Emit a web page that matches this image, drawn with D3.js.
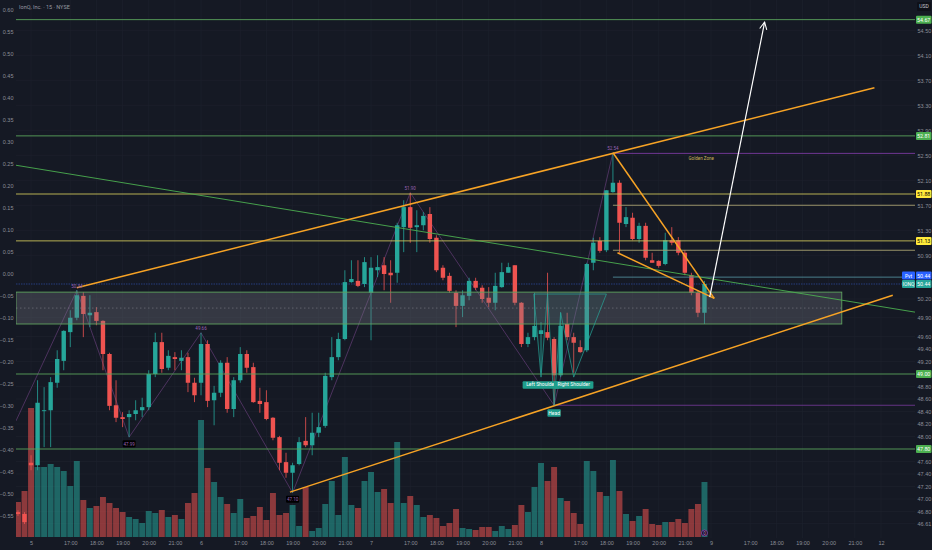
<!DOCTYPE html>
<html>
<head>
<meta charset="utf-8">
<script src="https://cdn.jsdelivr.net/npm/d3@7"></script>
<style>
  html, body { margin: 0; padding: 0; background: #151924; overflow: hidden; }
  svg { display: block; font-family: Roboto, "Noto Sans", sans-serif; }
  .axis text { fill: #8c8f98; font-size: 5.5px; }
  .axis path, .axis line { display: none; }
</style>
</head>
<body>
<div class="chart"></div>
<script>
// IONQ 15m bars, bar 0 and 1 are the end of the 4th, then sessions 5..8
const opens = [46.79,46.76,47.58,47.54,48.41,48.42,48.86,49.21,49.67,49.90,
  50.25,49.94,49.99,49.85,49.32,48.50,48.31,48.31,48.36,48.42,
  48.47,49.00,49.51,49.10,49.27,49.21,49.27,48.86,48.86,49.48,
  48.58,48.70,49.18,48.44,48.90,49.32,49.11,48.57,48.55,48.30,
  47.99,47.59,47.42,47.56,47.93,47.86,48.06,48.17,48.95,49.27,
  49.56,50.47,50.49,50.44,50.30,50.66,50.74,50.62,50.62,51.35,
  51.67,51.35,51.38,51.56,51.18,50.70,50.57,50.30,50.09,50.25,
  50.49,50.38,50.22,50.14,50.39,50.62,50.74,50.14,49.48,49.59,
  49.64,49.67,49.56,48.98,49.80,49.59,49.43,49.38,50.78,51.13,
  50.98,51.91,52.06,51.40,51.50,51.16,51.37,50.82,50.81,50.76,
  51.14,51.14,50.94,50.58,50.30,49.98];
const highs = [46.82,46.79,47.70,48.90,48.79,48.95,49.38,49.70,50.02,50.34,
  50.31,50.26,50.07,49.86,49.34,48.90,48.39,48.42,48.58,48.62,
  49.06,49.66,49.66,49.38,49.35,49.38,49.34,48.94,49.66,49.54,
  48.81,49.22,49.27,48.95,49.43,49.38,49.18,48.78,48.74,48.31,
  48.01,47.74,47.58,47.99,48.31,48.38,48.38,49.02,49.59,49.66,
  50.66,50.82,50.82,50.87,50.87,50.90,50.87,50.82,51.42,51.78,
  51.90,51.62,51.59,51.67,51.22,50.74,50.62,50.34,50.34,50.54,
  50.54,50.42,50.39,50.62,50.78,50.78,50.74,50.15,49.66,50.30,
  49.83,50.62,49.59,49.99,49.98,49.66,49.54,50.78,51.18,51.19,
  51.94,52.54,52.10,51.67,51.58,51.42,51.42,50.94,50.82,51.26,
  51.35,51.19,50.98,50.62,50.34,50.49];
const lows = [46.73,46.60,47.46,47.46,47.83,47.83,48.78,49.06,49.43,49.86,
  49.59,49.75,49.78,49.06,48.42,48.23,48.15,47.99,48.26,48.31,
  48.42,48.95,49.02,49.06,49.06,49.06,48.71,48.55,48.66,48.47,
  48.18,48.63,48.38,48.31,48.86,49.02,48.54,48.38,48.26,47.94,
  47.46,47.34,47.10,47.54,47.83,47.70,47.99,48.14,48.90,49.22,
  49.54,50.46,50.39,50.39,49.54,50.55,50.34,50.14,50.46,50.95,
  51.10,50.95,51.30,51.10,50.63,50.50,50.30,49.75,49.91,50.18,
  50.34,50.14,50.07,50.02,50.38,50.62,50.10,49.43,49.43,49.54,
  49.02,49.54,48.50,48.95,49.54,49.02,49.34,49.35,50.66,50.94,
  50.95,51.90,50.94,51.35,51.14,51.10,50.82,50.78,50.70,50.74,
  51.06,50.90,50.58,50.26,49.91,49.80];
const closes = [46.76,46.63,47.54,48.54,48.42,48.87,49.24,49.69,49.90,50.26,
  49.96,49.98,49.85,49.32,48.49,48.30,48.28,48.36,48.42,48.47,
  49.00,49.51,49.08,49.29,49.24,49.26,48.86,48.66,49.48,48.57,
  48.70,49.18,48.44,48.90,49.32,49.10,48.55,48.52,48.28,47.98,
  47.58,47.42,47.54,47.91,47.86,48.06,48.15,48.97,49.27,49.56,
  50.47,50.52,50.41,50.79,50.70,50.71,50.60,50.58,51.38,51.67,
  51.34,51.38,51.53,51.16,50.66,50.54,50.33,50.09,50.26,50.49,
  50.38,50.20,50.14,50.41,50.63,50.71,50.14,49.48,49.59,49.77,
  49.70,49.58,48.98,49.77,49.59,49.50,49.35,50.76,51.10,50.97,
  51.94,52.06,51.42,51.51,51.16,51.37,50.86,50.78,50.73,51.14,
  51.10,50.94,50.62,50.30,49.98,50.44];
// volume, thousands of shares
const volumes = [35,46,129,70,70,73,70,66,51,76,
  37,29,31,40,34,29,25,20,18,14,
  26,24,27,20,22,18,34,44,117,69,
  55,40,33,24,38,19,21,30,17,44,
  22,24,32,11,50,6,9,33,56,22,
  80,32,29,56,65,45,48,34,95,34,
  41,32,20,22,19,11,14,28,9,8,
  7,10,10,6,11,8,12,32,25,50,
  74,56,70,39,36,24,13,76,66,45,
  41,77,46,23,16,21,28,13,12,15,
  15,18,14,28,33,55];

// time axis: bar index of each label
const tickIdx = [2,8,12,16,20,24, 28,34,38,42,46,50, 54,60,64,68,72,76,
  80,86,90,94,98,102, 106,112,116,120,124,128, 132];
const tickLabels = ["5","17:00","18:00","19:00","20:00","21:00",
  "6","17:00","18:00","19:00","20:00","21:00",
  "7","17:00","18:00","19:00","20:00","21:00",
  "8","17:00","18:00","19:00","20:00","21:00",
  "9","17:00","18:00","19:00","20:00","21:00","12"];

const priceTicks = [54.50,54.10,53.70,53.30,52.90,52.50,52.10,51.70,51.30,50.90,
  50.20,49.90,49.60,49.40,49.20,48.80,48.60,48.40,48.20,48.00,
  47.60,47.40,47.20,47.00,46.80,46.61];
const leftTicks = d3.range(12, -12, -1).map(k => k * 0.05);

// drawn levels
const greenLevels = [54.67, 52.81, 49.00, 47.80];
const yellowLevels = [51.88, 51.13];
const fibLevels = [52.53, 51.70, 50.98];   // start at the bar 91 top
const pivotLevel = 50.55;
const headLevel = 48.50;
const zone = [49.80, 50.31];
const zoneEnd = 126;
const lastClose = 50.44;

// trend drawings, [bar index, price]
const channelTop = [[9, 50.38], [131, 53.58]];
const channelBottom = [[41.6, 47.11], [133.8, 50.26]];
const downTrend = [[-0.3, 52.34], [137.2, 49.99]];
const wedgeTop = [[91, 52.54], [106.5, 50.21]];
const wedgeBottom = [[91.7, 50.94], [106.5, 50.21]];
const target = [[105.8, 50.23], [114.2, 54.63]];
const zigzag = [[-0.3, 48.25], [9, 50.34], [17, 47.99], [28, 49.66], [42, 47.10],
  [60, 51.90], [82, 48.50], [91, 52.54]];
const zigLabels = ["", "50.34", "47.99", "49.66", "47.10", "51.90", "", "52.54"];
const headShoulders = [[78.9, 50.28], [80, 48.95], [81, 50.28], [82, 48.50],
  [83, 49.98], [85, 48.95], [90, 50.28]];

const width = 932, height = 550;
const plotRight = 915, plotBottom = 538;

const svg = d3.select(".chart").append("svg")
  .attr("width", width)
  .attr("height", height);

svg.append("rect").attr("width", width).attr("height", height).attr("fill", "#151924");

const x = d3.scaleLinear().domain([-0.3, 137.2]).range([16, plotRight]);
const y = d3.scaleLinear().domain([46.376, 54.984]).range([plotBottom, 0]);
const yLeft = d3.scaleLinear().domain([-0.55, 0.60]).range([516, 10]);
const yVol = d3.scaleLinear().domain([0, d3.max(volumes)]).range([537, 408]);

const defs = svg.append("defs");
defs.append("clipPath").attr("id", "plot")
  .append("rect").attr("x", 16).attr("y", 0).attr("width", plotRight - 16).attr("height", plotBottom);
defs.append("marker")
  .attr("id", "arrow")
  .attr("viewBox", "0 0 10 10")
  .attr("refX", 9).attr("refY", 5)
  .attr("markerWidth", 9).attr("markerHeight", 9)
  .attr("markerUnits", "userSpaceOnUse")
  .attr("orient", "auto")
  .append("path")
  .attr("d", "M1,1 L9,5 L1,9")
  .attr("fill", "none")
  .attr("stroke", "#ffffff")
  .attr("stroke-width", 1.2);

// grid
const grid = svg.append("g").attr("clip-path", "url(#plot)");
grid.selectAll(".vgrid").data(tickIdx).join("line")
  .attr("x1", d => x(d)).attr("x2", d => x(d))
  .attr("y1", 0).attr("y2", plotBottom)
  .attr("stroke", "#1d212c").attr("stroke-width", 0.7);
grid.selectAll(".hgrid").data(priceTicks).join("line")
  .attr("x1", 16).attr("x2", plotRight)
  .attr("y1", d => y(d)).attr("y2", d => y(d))
  .attr("stroke", "#1d212c").attr("stroke-width", 0.7);

const bars = opens.map((o, i) => ({
  i: i, o: o, h: highs[i], l: lows[i], c: closes[i], v: volumes[i], up: closes[i] >= o
}));

const plot = svg.append("g").attr("clip-path", "url(#plot)");

// volume
const step = x(1) - x(0);
plot.selectAll(".vol").data(bars).join("rect")
  .attr("class", "vol")
  .attr("x", d => x(d.i) - step / 2 + 0.3)
  .attr("width", step - 0.6)
  .attr("y", d => yVol(d.v))
  .attr("height", d => yVol(0) - yVol(d.v))
  .attr("fill", d => d.up ? "rgba(38,166,154,0.55)" : "rgba(239,83,80,0.55)");

// last price line
plot.append("line")
  .attr("x1", 16).attr("x2", plotRight)
  .attr("y1", y(lastClose)).attr("y2", y(lastClose))
  .attr("stroke", "#2b4596").attr("stroke-width", 0.8)
  .attr("stroke-dasharray", "1.5,1");

// zigzag
const line = d3.line().x(d => x(d[0])).y(d => y(d[1]));
plot.append("path")
  .attr("d", line(zigzag))
  .attr("fill", "none")
  .attr("stroke", "#8a4f9e")
  .attr("stroke-width", 0.6)
  .attr("opacity", 0.8);

// candles
plot.selectAll(".wick").data(bars).join("line")
  .attr("x1", d => x(d.i)).attr("x2", d => x(d.i))
  .attr("y1", d => y(d.h)).attr("y2", d => y(d.l))
  .attr("stroke", d => d.up ? "#26a69a" : "#ef5350")
  .attr("stroke-width", 0.8);
plot.selectAll(".body").data(bars).join("rect")
  .attr("x", d => x(d.i) - 2.2)
  .attr("width", 4.4)
  .attr("y", d => y(Math.max(d.o, d.c)))
  .attr("height", d => Math.max(0.9, Math.abs(y(d.o) - y(d.c))))
  .attr("fill", d => d.up ? "#26a69a" : "#ef5350");

// zone box
plot.append("rect")
  .attr("x", x(-0.3)).attr("width", x(zoneEnd) - x(-0.3))
  .attr("y", y(zone[1])).attr("height", y(zone[0]) - y(zone[1]))
  .attr("fill", "rgba(120,123,134,0.32)")
  .attr("stroke", "#5fa35f").attr("stroke-width", 0.9);
plot.append("line")
  .attr("x1", x(-0.3)).attr("x2", x(zoneEnd))
  .attr("y1", y(d3.mean(zone))).attr("y2", y(d3.mean(zone)))
  .attr("stroke", "#8a8d96").attr("stroke-width", 0.5)
  .attr("stroke-dasharray", "1.5,2.5");

// horizontal levels
plot.selectAll(".green").data(greenLevels).join("line")
  .attr("x1", 16).attr("x2", plotRight)
  .attr("y1", d => y(d)).attr("y2", d => y(d))
  .attr("stroke", "#5aa35c").attr("stroke-width", 0.9);
plot.selectAll(".yellow").data(yellowLevels).join("line")
  .attr("x1", 16).attr("x2", plotRight)
  .attr("y1", d => y(d)).attr("y2", d => y(d))
  .attr("stroke", "#c9c25a").attr("stroke-width", 0.9);
const fibColors = ["#7b3aa0", "#a8a070", "#a8a070"];
plot.selectAll(".fib").data(fibLevels).join("line")
  .attr("x1", x(91)).attr("x2", plotRight)
  .attr("y1", d => y(d)).attr("y2", d => y(d))
  .attr("stroke", (d, i) => fibColors[i]).attr("stroke-width", 0.9);
plot.append("line")
  .attr("x1", x(91)).attr("x2", plotRight)
  .attr("y1", y(pivotLevel)).attr("y2", y(pivotLevel))
  .attr("stroke", "#4f8b97").attr("stroke-width", 0.9);
plot.append("line")
  .attr("x1", x(82)).attr("x2", plotRight)
  .attr("y1", y(headLevel)).attr("y2", y(headLevel))
  .attr("stroke", "#6e3790").attr("stroke-width", 0.9);

// trend lines
plot.append("path").attr("d", line(downTrend))
  .attr("stroke", "#4caf50").attr("stroke-width", 0.9).attr("fill", "none");
[channelTop, channelBottom, wedgeTop, wedgeBottom].forEach(pts => {
  plot.append("path").attr("d", line(pts))
    .attr("stroke", "#f7a325").attr("stroke-width", 1.5).attr("fill", "none");
});

// head and shoulders
plot.append("path")
  .attr("d", line(headShoulders) + "Z")
  .attr("fill", "rgba(38,166,154,0.07)")
  .attr("stroke", "#26a69a")
  .attr("stroke-width", 0.7);

// target arrow
plot.append("path").attr("d", line(target))
  .attr("stroke", "#ffffff").attr("stroke-width", 1.2)
  .attr("fill", "none")
  .attr("marker-end", "url(#arrow)");

// zigzag labels
zigzag.forEach((p, k) => {
  if (!zigLabels[k]) return;
  const isLow = k % 2 === 0;
  const g = svg.append("g");
  const ty = isLow ? y(p[1]) + 7 : y(p[1]) - 4;
  if (isLow) {
    g.append("rect").attr("x", x(p[0]) - 6.5).attr("y", ty - 4)
      .attr("width", 13).attr("height", 7).attr("rx", 1).attr("fill", "#000000");
  }
  g.append("text").attr("x", x(p[0])).attr("y", ty + 1.6)
    .attr("text-anchor", "middle").attr("font-size", "4.5px")
    .attr("fill", "#9a62b4").text(zigLabels[k]);
});

// pattern tags
function tag(px, py, text) {
  const w = text.length * 2.6 + 3;
  svg.append("rect").attr("x", px - w / 2).attr("y", py).attr("width", w).attr("height", 7.5)
    .attr("rx", 1).attr("fill", "#1f9e8c");
  svg.append("text").attr("x", px).attr("y", py + 5.3).attr("text-anchor", "middle")
    .attr("font-size", "5px").attr("fill", "#ffffff").text(text);
}
tag(x(headShoulders[1][0]), y(headShoulders[1][1]) + 4, "Left Shoulder");
tag(x(headShoulders[5][0]), y(headShoulders[5][1]) + 4, "Right Shoulder");
tag(x(headShoulders[3][0]), y(headShoulders[3][1]) + 4, "Head");

svg.append("text").attr("x", x(104.5)).attr("y", y(fibLevels[0]) + 7)
  .attr("text-anchor", "middle").attr("font-size", "4.5px")
  .attr("fill", "#c9b458").text("Golden Zone");

// earnings marker
svg.append("circle").attr("cx", x(105)).attr("cy", 533).attr("r", 3)
  .attr("fill", "#1a1422").attr("stroke", "#8e44ad").attr("stroke-width", 0.8);
svg.append("text").attr("x", x(105)).attr("y", 534.8).attr("text-anchor", "middle")
  .attr("font-size", "4.5px").attr("fill", "#b57ad0").text("0");

// axes
svg.append("g").attr("class", "axis")
  .attr("transform", "translate(" + plotRight + ",0)")
  .call(d3.axisRight(y).tickValues(priceTicks).tickSize(0).tickPadding(2.5).tickFormat(d3.format(".2f")));
svg.append("g").attr("class", "axis")
  .attr("transform", "translate(15,0)")
  .call(d3.axisLeft(yLeft).tickValues(leftTicks).tickSize(0).tickPadding(1.5).tickFormat(d3.format(".2f")));
svg.append("g").attr("class", "axis")
  .attr("transform", "translate(0," + plotBottom + ")")
  .call(d3.axisBottom(x).tickValues(tickIdx).tickSize(0).tickPadding(3)
    .tickFormat((d, i) => tickLabels[i]));

// price tags on the right scale
function priceTag(p, fill, ink) {
  const ty = y(p);
  svg.append("rect").attr("x", 916).attr("y", ty - 4).attr("width", 15.5).attr("height", 8)
    .attr("rx", 1).attr("fill", fill);
  svg.append("text").attr("x", 923.7).attr("y", ty + 1.9).attr("text-anchor", "middle")
    .attr("font-size", "5.3px").attr("fill", ink).text(p.toFixed(2));
}
greenLevels.forEach(p => priceTag(p, "#4caf50", "#ffffff"));
yellowLevels.forEach(p => priceTag(p, "#ffeb3b", "#000000"));

// pivot and last price tags, stacked like the platform does
const tagGap = 8.4;
function stackTag(p, offset, fill, name) {
  const ty = y(p) + offset;
  svg.append("rect").attr("x", 916).attr("y", ty - 4).attr("width", 15.5).attr("height", 8)
    .attr("rx", 1).attr("fill", fill);
  svg.append("text").attr("x", 923.7).attr("y", ty + 1.9).attr("text-anchor", "middle")
    .attr("font-size", "5.3px").attr("fill", "#ffffff").text(p.toFixed(2));
  svg.append("rect").attr("x", 902).attr("y", ty - 4).attr("width", 13).attr("height", 8)
    .attr("rx", 1).attr("fill", fill);
  svg.append("text").attr("x", 908.5).attr("y", ty + 1.9).attr("text-anchor", "middle")
    .attr("font-size", "5px").attr("fill", "#ffffff").text(name);
}
stackTag(lastClose, -tagGap, "#2962ff", "Pvt");
stackTag(lastClose, 0, "#26a69a", "IONQ");

// currency and title
svg.append("rect").attr("x", 917).attr("y", 2).attr("width", 14).attr("height", 9)
  .attr("rx", 1).attr("fill", "#0e1018");
svg.append("text").attr("x", 924).attr("y", 8.3).attr("text-anchor", "middle")
  .attr("font-size", "5px").attr("fill", "#c3c6ce").text("USD");
svg.append("text").attr("x", 19).attr("y", 8.8)
  .attr("font-size", "5.5px").attr("fill", "#9598a1").text("IonQ, Inc. · 15 · NYSE");
</script>
</body>
</html>
